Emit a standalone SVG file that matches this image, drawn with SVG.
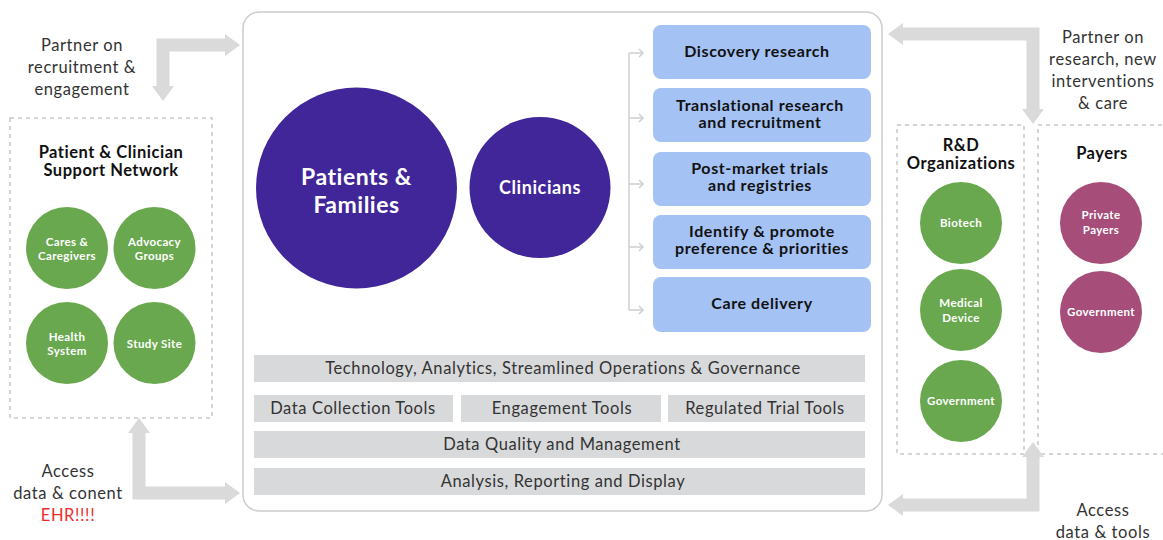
<svg xmlns="http://www.w3.org/2000/svg" width="1163" height="540" viewBox="0 0 1163 540">
<style>
.lbl{font-family:Lato,"Open Sans","Liberation Sans",sans-serif;font-size:16.5px;letter-spacing:0.6px;fill:#333;text-anchor:middle}
.ttl{font-family:Lato,"Open Sans","Liberation Sans",sans-serif;font-size:16.5px;letter-spacing:0.5px;font-weight:bold;fill:#111;text-anchor:middle}
.sm{font-family:Lato,"Open Sans","Liberation Sans",sans-serif;font-size:11.5px;letter-spacing:0.4px;font-weight:bold;fill:#fff;text-anchor:middle}
.big{font-family:Lato,"Open Sans","Liberation Sans",sans-serif;font-weight:bold;fill:#fff;text-anchor:middle}
.blue{fill:#a4c2f4}
.btx{font-family:Lato,"Open Sans","Liberation Sans",sans-serif;font-size:16px;letter-spacing:0.6px;font-weight:bold;fill:#111;text-anchor:middle}
.bar{fill:#d8d9da}
.dash{fill:#fff;stroke:#c8c8c8;stroke-width:1.5;stroke-dasharray:4 4}
.green{fill:#6aa84f}
.mag{fill:#a64d79}
.purple{fill:#41269a}
.arr{fill:none;stroke:#dadada;stroke-width:13}
.head{fill:#dadada}
.thin{fill:none;stroke:#cfcfcf;stroke-width:1.5}
</style>

<g id="central-panel">
<rect x="243" y="12" width="639" height="499" rx="16" fill="#fff" stroke="#cccccc" stroke-width="1.5"/>
</g>

<g id="patients-families">
<circle class="purple" cx="356.5" cy="188" r="100.5"/>
<text class="big" x="356.5" y="185" font-size="23" letter-spacing="0.5">Patients &amp;</text>
<text class="big" x="356.5" y="213" font-size="23" letter-spacing="0.5">Families</text>
</g>
<g id="clinicians">
<circle class="purple" cx="540" cy="187.5" r="70.5"/>
<text class="big" x="540" y="194" font-size="18" letter-spacing="0.6">Clinicians</text>
</g>

<g id="discovery-research"><rect class="blue" x="653" y="25" width="218" height="54" rx="8"/><text class="btx" x="757" y="57">Discovery research</text></g>
<g id="translational-research"><rect class="blue" x="653" y="88" width="218" height="54" rx="8"/><text class="btx" x="760" y="111">Translational research</text><text class="btx" x="760" y="128">and recruitment</text></g>
<g id="post-market"><rect class="blue" x="653" y="152" width="218" height="54" rx="8"/><text class="btx" x="760" y="174">Post-market trials</text><text class="btx" x="760" y="191">and registries</text></g>
<g id="identify-promote"><rect class="blue" x="653" y="215" width="218" height="54" rx="8"/><text class="btx" x="762" y="237">Identify &amp; promote</text><text class="btx" x="762" y="254">preference &amp; priorities</text></g>
<g id="care-delivery"><rect class="blue" x="653" y="277" width="218" height="55" rx="8"/><text class="btx" x="762" y="309">Care delivery</text></g>

<g id="tech-bar"><rect class="bar" x="254" y="355" width="611" height="27"/><text class="lbl" x="563" y="374">Technology, Analytics, Streamlined Operations &amp; Governance</text></g>
<g id="data-collection-tools"><rect class="bar" x="254" y="395" width="199" height="27"/><text class="lbl" x="353" y="414">Data Collection Tools</text></g>
<g id="engagement-tools"><rect class="bar" x="461" y="395" width="200" height="27"/><text class="lbl" x="562" y="414">Engagement Tools</text></g>
<g id="regulated-trial-tools"><rect class="bar" x="668" y="395" width="197" height="27"/><text class="lbl" x="765" y="414">Regulated Trial Tools</text></g>
<g id="data-quality"><rect class="bar" x="254" y="431" width="611" height="27"/><text class="lbl" x="562" y="450">Data Quality and Management</text></g>
<g id="analysis-reporting"><rect class="bar" x="254" y="468" width="611" height="27"/><text class="lbl" x="563" y="487">Analysis, Reporting and Display</text></g>

<g id="support-network">
<rect class="dash" x="10" y="118" width="202" height="300"/>
<text class="ttl" x="111" y="158">Patient &amp; Clinician</text>
<text class="ttl" x="111" y="176">Support Network</text>
</g>
<g id="cares-caregivers"><circle class="green" cx="67" cy="248" r="41"/><text class="sm" x="67" y="246">Cares &amp;</text><text class="sm" x="67" y="260">Caregivers</text></g>
<g id="advocacy-groups"><circle class="green" cx="154.5" cy="248" r="41"/><text class="sm" x="154.5" y="246">Advocacy</text><text class="sm" x="154.5" y="260">Groups</text></g>
<g id="health-system"><circle class="green" cx="67" cy="343" r="41"/><text class="sm" x="67" y="341">Health</text><text class="sm" x="67" y="355">System</text></g>
<g id="study-site"><circle class="green" cx="154.5" cy="343" r="41"/><text class="sm" x="154.5" y="348">Study Site</text></g>

<g id="rd-organizations">
<rect class="dash" x="897" y="125" width="127" height="329"/>
<text class="ttl" x="961" y="151">R&amp;D</text>
<text class="ttl" x="961" y="169">Organizations</text>
</g>
<g id="biotech"><circle class="green" cx="961" cy="223" r="41"/><text class="sm" x="961" y="227">Biotech</text></g>
<g id="medical-device"><circle class="green" cx="961" cy="310" r="41"/><text class="sm" x="961" y="307">Medical</text><text class="sm" x="961" y="322">Device</text></g>
<g id="rd-government"><circle class="green" cx="961" cy="401" r="41"/><text class="sm" x="961" y="405">Government</text></g>

<g id="payers">
<rect class="dash" x="1038" y="125" width="135" height="329"/>
<text class="ttl" x="1102" y="159">Payers</text>
</g>
<g id="private-payers"><circle class="mag" cx="1101" cy="223" r="41"/><text class="sm" x="1101" y="219">Private</text><text class="sm" x="1101" y="234">Payers</text></g>
<g id="payers-government"><circle class="mag" cx="1101" cy="312" r="41"/><text class="sm" x="1101" y="316">Government</text></g>

<g id="connectors">
<path class="thin" d="M629,53 V310 M629,53 H643 M629,118 H643 M629,184 H643 M629,247 H643 M629,310 H643"/>
<path class="thin" d="M639,49 L643,53 L639,57 M639,114 L643,118 L639,122 M639,180 L643,184 L639,188 M639,243 L643,247 L639,251 M639,306 L643,310 L639,314"/>
<path class="arr" d="M163,88 V45 H226"/>
<polygon class="head" points="152,86 174,86 163,101"/>
<polygon class="head" points="225,34 240,45 225,56"/>
<path class="arr" d="M139,432 V493 H226"/>
<polygon class="head" points="128,433 150,433 139,418"/>
<polygon class="head" points="225,482 240,493 225,504"/>
<path class="arr" d="M1033,110 V34 H902"/>
<polygon class="head" points="903,23 888,34 903,45"/>
<polygon class="head" points="1022,109 1044,109 1033,124"/>
<path class="arr" d="M1033,456 V505 H902"/>
<polygon class="head" points="903,494 888,505 903,516"/>
<polygon class="head" points="1022,457 1044,457 1033,442"/>
</g>

<g id="labels">
<text class="lbl" x="82" y="51">Partner on</text>
<text class="lbl" x="82" y="73">recruitment &amp;</text>
<text class="lbl" x="82" y="95">engagement</text>
<text class="lbl" x="1103" y="43">Partner on</text>
<text class="lbl" x="1103" y="65">research, new</text>
<text class="lbl" x="1103" y="87">interventions</text>
<text class="lbl" x="1103" y="109">&amp; care</text>
<text class="lbl" x="68" y="477">Access</text>
<text class="lbl" x="68" y="499">data &amp; conent</text>
<text class="lbl" x="68" y="521" style="fill:#ee2b2b">EHR!!!!</text>
<text class="lbl" x="1103" y="516">Access</text>
<text class="lbl" x="1103" y="538">data &amp; tools</text>
</g>
</svg>
